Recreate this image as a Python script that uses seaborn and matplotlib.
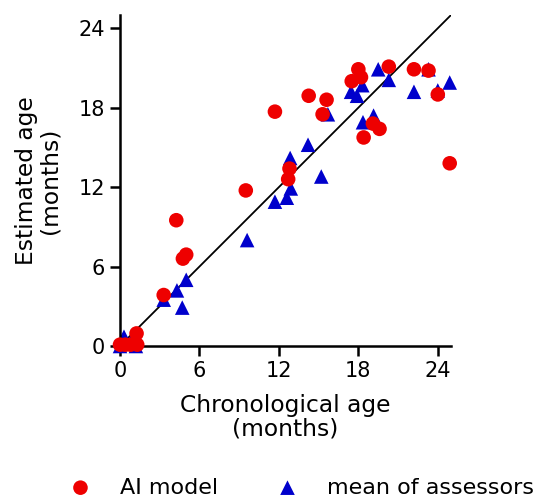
import numpy as np
import pandas as pd
import matplotlib
matplotlib.use("Agg")
import matplotlib.pyplot as plt
import seaborn as sns

# chronological vs estimated age (months)
ai_chrono = [0.0, 0.4, 0.8, 1.3, 1.25, 3.3, 4.25, 4.75, 5.0, 9.5, 11.7, 12.7, 12.8,
             14.25, 15.3, 15.6, 17.5, 18.0, 18.2, 18.4, 19.1, 19.6, 20.3, 22.2,
             23.3, 24.0, 24.9]
ai_est = [0.1, 0.1, 0.1, 0.1, 0.95, 3.85, 9.5, 6.6, 6.9, 11.75, 17.7, 12.6, 13.4,
          18.9, 17.5, 18.6, 20.0, 20.9, 20.3, 15.75, 16.8, 16.4, 21.1, 20.9,
          20.8, 19.0, 13.8]

mean_chrono = [0.0, 0.3, 0.8, 1.2, 3.3, 4.3, 4.7, 5.0, 9.6, 11.7, 12.6, 12.9, 12.85,
               14.2, 15.2, 15.7, 17.45, 17.9, 18.3, 18.35, 19.15, 19.5, 20.3, 22.2,
               23.3, 24.0, 24.9]
mean_est = [0.0, 0.7, 0.3, 0.0, 3.5, 4.2, 2.9, 5.0, 8.0, 10.9, 11.2, 11.9, 14.2,
            15.2, 12.8, 17.5, 19.2, 18.9, 19.7, 16.9, 17.4, 20.9, 20.1, 19.2,
            20.9, 19.3, 19.9]

ticks = [0, 6, 12, 18, 24]

sns.set_style("ticks")
plt.rcParams["font.family"] = ["DejaVu Sans"]
plt.rcParams["text.color"] = "black"
plt.rcParams["axes.labelcolor"] = "black"

fig = plt.figure(figsize=(5.44, 5.0), dpi=100)
ax = fig.add_axes([0.2206, 0.308, 0.6085, 0.662])

# identity line
ax.plot([0, 25], [0, 25], color="black", lw=1.3, zorder=1)

sns.scatterplot(x=ai_chrono, y=ai_est, ax=ax, marker="o", s=110, color="#ee0000",
                edgecolor="none", label="AI model", zorder=3, clip_on=False)
sns.scatterplot(x=mean_chrono, y=mean_est, ax=ax, marker="^", s=110, color="#0000cc",
                edgecolor="none", label="mean of assessors", zorder=2, clip_on=False)

ax.set_xlim(0, 25)
ax.set_ylim(0, 25)
ax.set_xticks(ticks)
ax.set_yticks(ticks)
ax.tick_params(labelsize=15, length=7, width=1.8, pad=4, colors="black")
for side in ["left", "bottom"]:
    ax.spines[side].set_linewidth(1.8)
    ax.spines[side].set_color("black")
sns.despine(ax=ax)

ax.set_xlabel("Chronological age\n(months)", fontsize=16.8, linespacing=1.05,
              labelpad=9, color="black")
ax.set_ylabel("Estimated age\n(months)", fontsize=16.8, linespacing=1.05,
              labelpad=12, color="black")

handles, labels = ax.get_legend_handles_labels()
ax.get_legend().remove()
fig.legend(handles, labels, loc="lower center", bbox_to_anchor=(0.555, -0.035), ncol=2,
           frameon=False, fontsize=16, handlelength=1.0, handletextpad=1.3,
           columnspacing=2.6, labelcolor="black")

fig.savefig("out.png", dpi=100)
